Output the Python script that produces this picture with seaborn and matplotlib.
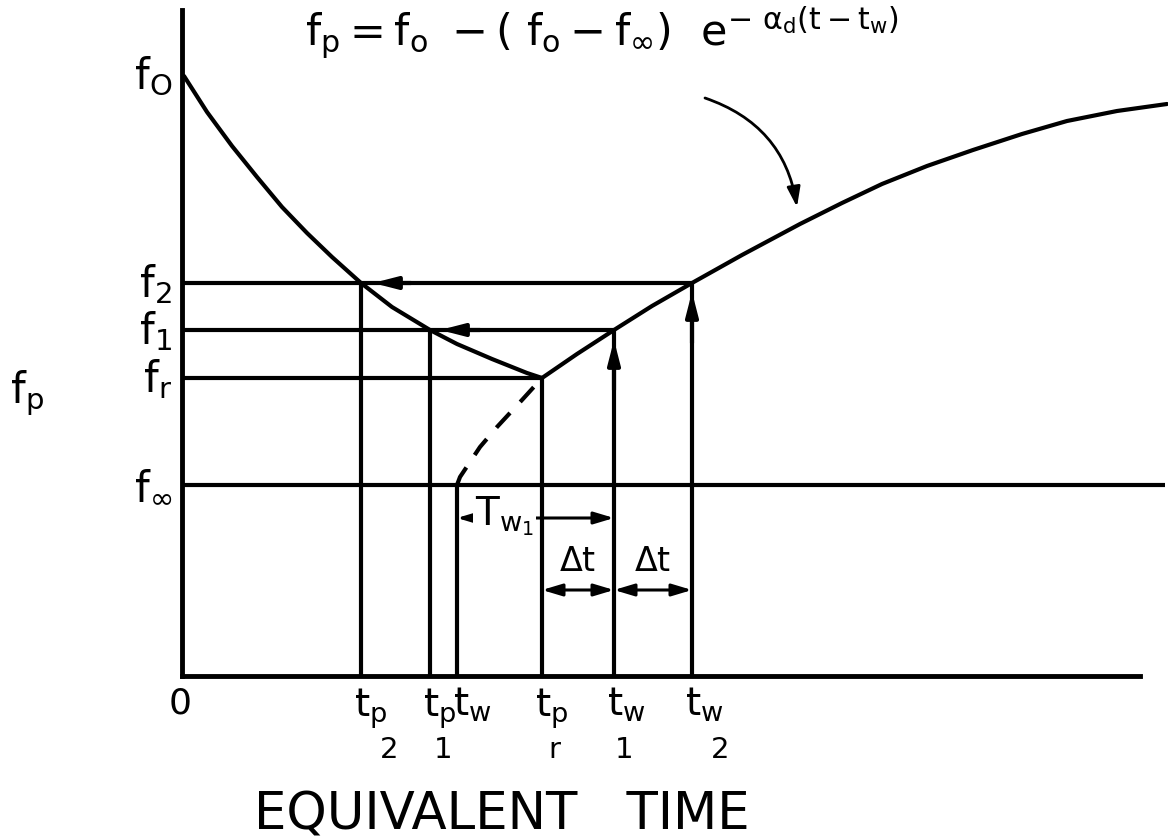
import matplotlib
matplotlib.use("Agg")
import matplotlib.pyplot as plt
import seaborn as sns

sns.set_theme(style="white")
plt.rcParams["font.family"] = ["DejaVu Sans"]
plt.rcParams["mathtext.fontset"] = "dejavusans"
plt.rcParams["mathtext.default"] = "regular"
plt.rcParams["text.color"] = "black"

# Characteristic levels of f_p
f0 = 6.01
f2 = 3.93
f1 = 3.46
fr = 2.98
finf = 1.91

# Characteristic equivalent times
tp2 = 1.79
tp1 = 2.48
tw = 2.75
tpr = 3.60
tw1 = 4.32
tw2 = 5.10

# Decay branch from f0 down to fr
decay_t = [0.02, 0.25, 0.50, 0.75, 1.00, 1.25, 1.50, 1.79, 2.10, 2.48, 2.75, 3.10, 3.45, 3.60]
decay_f = [6.00, 5.64, 5.30, 4.99, 4.69, 4.43, 4.19, 3.93, 3.69, 3.46, 3.32, 3.17, 3.03, 2.98]

# Hidden (dashed) start of the recovery branch from f_inf at tw
rec_hidden_t = [2.75, 2.78, 2.98, 3.15, 3.40, 3.60]
rec_hidden_f = [1.91, 1.99, 2.29, 2.49, 2.76, 2.98]

# Visible recovery branch
rec_t = [3.60, 3.95, 4.32, 4.70, 5.10, 5.60, 6.18, 6.60, 7.00, 7.45, 7.91, 8.40, 8.85, 9.35, 9.85]
rec_f = [2.98, 3.22, 3.46, 3.70, 3.93, 4.21, 4.52, 4.73, 4.92, 5.10, 5.26, 5.42, 5.55, 5.65, 5.72]

# Tick labels along the time axis (letter part; indices drawn beneath)
tick_pos = [tp2, tp1, tw, tpr, tw1, tw2]
tick_lbl = [r"$t_p$", r"$t_p$", r"$t_w$", r"$t_p$", r"$t_w$", r"$t_w$"]
tick_idx = ["2", "1", "", "r", "1", "2"]
idx_dx = [0.28, 0.13, 0.0, 0.12, 0.10, 0.28]

# f labels along the vertical axis
f_pos = [f0, f2, f1, fr, finf]
f_lbl = [r"$f_O$", r"$f_2$", r"$f_1$", r"$f_r$", r"$f_\infty$"]

LW = 3.0
fig = plt.figure(figsize=(11.68, 8.40), dpi=100)
ax = fig.add_axes([182 / 1168, 164 / 840, (1168 - 182) / 1168, (676 - 10) / 840])
ax.set_xlim(0, 9.86)
ax.set_ylim(0, 6.66)
ax.set_xticks([])
ax.set_yticks([])
for s in ["top", "right"]:
    ax.spines[s].set_visible(False)
for s in ["left", "bottom"]:
    ax.spines[s].set_linewidth(3.5)
    ax.spines[s].set_color("black")
ax.spines["bottom"].set_bounds(0, 9.58)
ax.patch.set_alpha(0)

# Curves
sns.lineplot(x=decay_t, y=decay_f, ax=ax, color="black", lw=LW, clip_on=False)
sns.lineplot(x=rec_hidden_t, y=rec_hidden_f, ax=ax, color="black", lw=LW,
             linestyle=(0, (4.8, 3.6)), clip_on=False)
sns.lineplot(x=rec_t, y=rec_f, ax=ax, color="black", lw=LW, clip_on=False)

# Horizontal construction lines
ax.hlines(f2, 0, tw2, color="black", lw=LW)
ax.hlines(f1, 0, tw1, color="black", lw=LW)
ax.hlines(fr, 0, tpr, color="black", lw=LW)
ax.hlines(finf, 0, 9.83, color="black", lw=LW, clip_on=False)

# Vertical construction lines
ax.vlines(tp2, 0, f2, color="black", lw=LW)
ax.vlines(tp1, 0, f1, color="black", lw=LW)
ax.vlines(tw, 0, finf, color="black", lw=LW)
ax.vlines(tpr, 0, fr, color="black", lw=LW)
ax.vlines(tw1, 0, f1, color="black", lw=LW)
ax.vlines(tw2, 0, f2, color="black", lw=LW)

head = dict(arrowstyle="-|>,head_length=0.7,head_width=0.18", color="black",
            lw=LW, mutation_scale=20, shrinkA=0, shrinkB=0)
# Leftward arrows toward the decay branch
ax.annotate("", xy=(tp2 + 0.12, f2), xytext=(tp2 + 0.5, f2), arrowprops=head)
ax.annotate("", xy=(tp1 + 0.10, f1), xytext=(tp1 + 0.5, f1), arrowprops=head)
# Upward arrows toward the recovery branch
ax.annotate("", xy=(tw1, f1 - 0.10), xytext=(tw1, f1 - 0.6), arrowprops=head)
ax.annotate("", xy=(tw2, f2 - 0.09), xytext=(tw2, f2 - 0.6), arrowprops=head)

# Dimension arrows
dim = dict(arrowstyle="<|-|>,head_length=0.6,head_width=0.18", color="black",
           lw=2.2, mutation_scale=20, shrinkA=0, shrinkB=0)
y_tw = 1.58
ax.annotate("", xy=(tw, y_tw), xytext=(tw1, y_tw), arrowprops=dim)
ax.text(2.93, y_tw + 0.02, r"$T_{w_1}$", fontsize=28, ha="left", va="center",
        bbox=dict(facecolor="white", edgecolor="none", pad=1))
y_dt = 0.86
ax.annotate("", xy=(tpr, y_dt), xytext=(tw1, y_dt), arrowprops=dim)
ax.annotate("", xy=(tw1, y_dt), xytext=(tw2, y_dt), arrowprops=dim)
ax.text((tpr + tw1) / 2, y_dt + 0.12, r"$\Delta t$", fontsize=24, ha="center", va="bottom")
ax.text((tw1 + tw2) / 2, y_dt + 0.12, r"$\Delta t$", fontsize=24, ha="center", va="bottom")

# Axis labels
for y, s in zip(f_pos, f_lbl):
    ax.text(-0.10, y - 0.14, s, fontsize=30, ha="right", va="baseline", clip_on=False)
ax.text(-1.72, 2.73, r"$f_p$", fontsize=30, ha="left", va="baseline", clip_on=False)

ax.text(-0.02, -0.10, "0", fontsize=26, ha="center", va="top", clip_on=False)
for x, s, idx, dxi in zip(tick_pos, tick_lbl, tick_idx, idx_dx):
    dx = -0.07 if idx else -0.04
    ax.text(x + dx, -0.10, s, fontsize=28, ha="left", va="top", clip_on=False)
    if idx:
        ax.text(x + dxi, -0.60, idx, fontsize=21, ha="center", va="top", clip_on=False)

ax.text(3.20, -1.53, "EQUIVALENT   TIME", fontsize=37, ha="center", va="baseline",
        clip_on=False)

# Equation of the recovery branch with pointer
ax.text(1.23, 6.31, r"$f_p = f_o\ -(\ f_o - f_\infty)\ \ e^{-\ \alpha_d(t - t_w)}$",
        fontsize=31, ha="left", va="baseline", clip_on=False)
ax.annotate("", xy=(6.15, 4.69), xytext=(5.23, 5.78),
            arrowprops=dict(arrowstyle="-|>,head_length=0.6,head_width=0.2",
                            connectionstyle="arc3,rad=-0.3", color="black",
                            lw=2.0, mutation_scale=20, shrinkA=0, shrinkB=0))

fig.savefig("out.png", dpi=100, facecolor="white")
